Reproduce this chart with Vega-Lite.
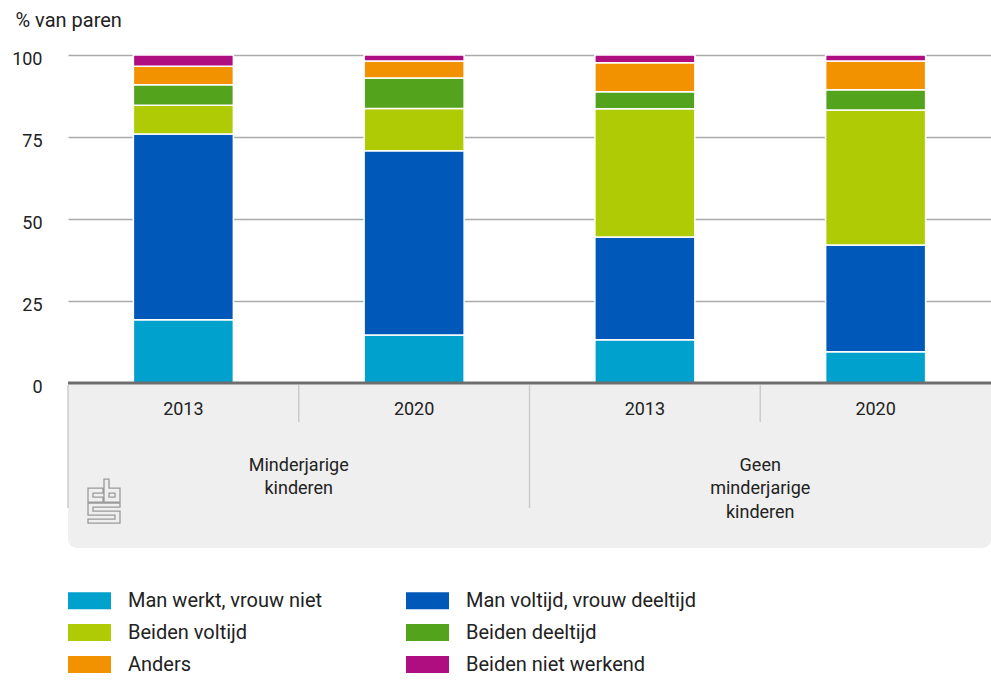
{
  "$schema": "https://vega.github.io/schema/vega-lite/v6.json",
  "width": 923,
  "height": 493,
  "autosize": {"type": "none"},
  "padding": {"left": 68, "top": 55, "right": 0, "bottom": 132},
  "background": "white",
  "config": {
    "view": {"stroke": null},
    "font": "Roboto",
    "text": {"font": "Roboto", "color": "#222222"},
    "legend": {
      "orient": "none",
      "direction": "horizontal",
      "legendX": 0,
      "legendY": 524,
      "columns": 2,
      "symbolType": "M-1,-0.3953H1V0.3953H-1Z",
      "symbolSize": 1849,
      "symbolStrokeWidth": 0,
      "symbolOpacity": 1,
      "labelFont": "Roboto",
      "labelFontSize": 20,
      "labelColor": "#222222",
      "labelOffset": 17,
      "labelLimit": 400,
      "rowPadding": -10,
      "columnPadding": 83,
      "padding": 0,
      "title": null
    }
  },
  "datasets": {
    "bars": [
      {"pos": "M2013", "categorie": "Man werkt, vrouw niet", "rang": 1, "waarde": 19.3},
      {"pos": "M2013", "categorie": "Man voltijd, vrouw deeltijd", "rang": 2, "waarde": 56.6},
      {"pos": "M2013", "categorie": "Beiden voltijd", "rang": 3, "waarde": 8.8},
      {"pos": "M2013", "categorie": "Beiden deeltijd", "rang": 4, "waarde": 6.2},
      {"pos": "M2013", "categorie": "Anders", "rang": 5, "waarde": 5.7},
      {"pos": "M2013", "categorie": "Beiden niet werkend", "rang": 6, "waarde": 3.4},
      {"pos": "M2020", "categorie": "Man werkt, vrouw niet", "rang": 1, "waarde": 14.6},
      {"pos": "M2020", "categorie": "Man voltijd, vrouw deeltijd", "rang": 2, "waarde": 56.2},
      {"pos": "M2020", "categorie": "Beiden voltijd", "rang": 3, "waarde": 12.9},
      {"pos": "M2020", "categorie": "Beiden deeltijd", "rang": 4, "waarde": 9.3},
      {"pos": "M2020", "categorie": "Anders", "rang": 5, "waarde": 5.2},
      {"pos": "M2020", "categorie": "Beiden niet werkend", "rang": 6, "waarde": 1.8},
      {"pos": "G2013", "categorie": "Man werkt, vrouw niet", "rang": 1, "waarde": 13.2},
      {"pos": "G2013", "categorie": "Man voltijd, vrouw deeltijd", "rang": 2, "waarde": 31.3},
      {"pos": "G2013", "categorie": "Beiden voltijd", "rang": 3, "waarde": 39.1},
      {"pos": "G2013", "categorie": "Beiden deeltijd", "rang": 4, "waarde": 5.2},
      {"pos": "G2013", "categorie": "Anders", "rang": 5, "waarde": 8.8},
      {"pos": "G2013", "categorie": "Beiden niet werkend", "rang": 6, "waarde": 2.4},
      {"pos": "G2020", "categorie": "Man werkt, vrouw niet", "rang": 1, "waarde": 9.5},
      {"pos": "G2020", "categorie": "Man voltijd, vrouw deeltijd", "rang": 2, "waarde": 32.6},
      {"pos": "G2020", "categorie": "Beiden voltijd", "rang": 3, "waarde": 41.1},
      {"pos": "G2020", "categorie": "Beiden deeltijd", "rang": 4, "waarde": 6.2},
      {"pos": "G2020", "categorie": "Anders", "rang": 5, "waarde": 8.8},
      {"pos": "G2020", "categorie": "Beiden niet werkend", "rang": 6, "waarde": 1.8}
    ],
    "cols": [
      {"pos": "M2013", "jaar": "2013", "groep": "Minderjarige\nkinderen"},
      {"pos": "M2020", "jaar": "2020", "groep": "Minderjarige\nkinderen"},
      {"pos": "G2013", "jaar": "2013", "groep": "Geen\nminderjarige\nkinderen"},
      {"pos": "G2020", "jaar": "2020", "groep": "Geen\nminderjarige\nkinderen"}
    ]
  },
  "layer": [
    {
      "data": {"values": [{"deel": "paneel"}]},
      "mark": {"type": "rect", "fill": "#efefef", "cornerRadiusBottomLeft": 9, "cornerRadiusBottomRight": 9},
      "encoding": {
        "y": {"datum": 0, "type": "quantitative"},
        "y2": {"datum": -50.3}
      }
    },
    {
      "data": {"name": "bars"},
      "mark": {"type": "bar", "size": 100, "stroke": "white", "strokeWidth": 1.5},
      "encoding": {
        "x": {
          "field": "pos",
          "type": "nominal",
          "scale": {"domain": ["M2013", "M2020", "G2013", "G2020"], "paddingInner": 0, "paddingOuter": 0},
          "axis": null
        },
        "y": {
          "field": "waarde",
          "type": "quantitative",
          "stack": "zero",
          "scale": {"domain": [-50.3, 100], "nice": false, "zero": false},
          "axis": {
            "values": [0, 25, 50, 75, 100],
            "domain": false,
            "ticks": false,
            "grid": true,
            "gridColor": "#aaaaaa",
            "gridWidth": 1.5,
            "labelFont": "Roboto",
            "labelFontSize": 18,
            "labelColor": "#222222",
            "labelPadding": 26,
            "labelOffset": 4,
            "title": "% van paren",
            "titleAngle": 0,
            "titleAlign": "left",
            "titleBaseline": "alphabetic",
            "titleX": -53,
            "titleY": -29,
            "titleFont": "Roboto",
            "titleFontSize": 20,
            "titleFontWeight": "normal",
            "titleColor": "#222222"
          }
        },
        "color": {
          "field": "categorie",
          "type": "nominal",
          "scale": {
            "domain": ["Man werkt, vrouw niet", "Man voltijd, vrouw deeltijd", "Beiden voltijd", "Beiden deeltijd", "Anders", "Beiden niet werkend"],
            "range": ["#00a1cd", "#0058b8", "#afcb05", "#53a31d", "#f39200", "#af0e80"]
          }
        },
        "order": {"field": "rang", "type": "quantitative", "sort": "ascending"}
      }
    },
    {
      "data": {"values": [{"lijn": "nul"}]},
      "mark": {"type": "rule", "color": "#6e6e6e", "strokeWidth": 3},
      "encoding": {"y": {"datum": 0, "type": "quantitative"}}
    },
    {
      "data": {"name": "cols"},
      "transform": [{"filter": "datum.jaar === '2013'"}],
      "mark": {"type": "rule", "color": "#cccccc", "strokeWidth": 1.5},
      "encoding": {
        "x": {"field": "pos", "type": "nominal", "bandPosition": 0},
        "y": {"datum": -0.6, "type": "quantitative"},
        "y2": {"datum": -38.1}
      }
    },
    {
      "data": {"name": "cols"},
      "transform": [{"filter": "datum.jaar === '2020'"}],
      "mark": {"type": "rule", "color": "#cccccc", "strokeWidth": 1.5},
      "encoding": {
        "x": {"field": "pos", "type": "nominal", "bandPosition": 0},
        "y": {"datum": -0.6, "type": "quantitative"},
        "y2": {"datum": -11.9}
      }
    },
    {
      "data": {"name": "cols"},
      "mark": {"type": "text", "fontSize": 18, "baseline": "middle", "align": "center", "color": "#222222"},
      "encoding": {
        "x": {"field": "pos", "type": "nominal"},
        "y": {"datum": -8.1, "type": "quantitative"},
        "text": {"field": "jaar"}
      }
    },
    {
      "data": {"name": "cols"},
      "transform": [{"filter": "datum.jaar === '2013'"}],
      "mark": {"type": "text", "fontSize": 18, "baseline": "alphabetic", "align": "center", "lineBreak": "\n", "lineHeight": 23.5, "color": "#222222"},
      "encoding": {
        "x": {"field": "pos", "type": "nominal", "bandPosition": 1},
        "y": {"datum": -26.7, "type": "quantitative"},
        "text": {"field": "groep"}
      }
    },
    {
      "data": {"values": [{"logo": "cbs"}]},
      "mark": {
        "type": "point",
        "shape": "M-1,-13H-16V1H-1V-4H-11V-8H-1Z M0,-22H5V-13H16V1H0Z M5,-8H11V-4H5Z M16,2H-16V14H11V18H-16V22H16V10H-11V6H16Z",
        "size": 4,
        "filled": false,
        "stroke": "#9a9a9a",
        "strokeWidth": 1.3,
        "opacity": 1
      },
      "encoding": {
        "x": {"datum": "M2013", "type": "nominal", "bandPosition": 0.156},
        "y": {"datum": -36, "type": "quantitative"}
      }
    }
  ]
}
